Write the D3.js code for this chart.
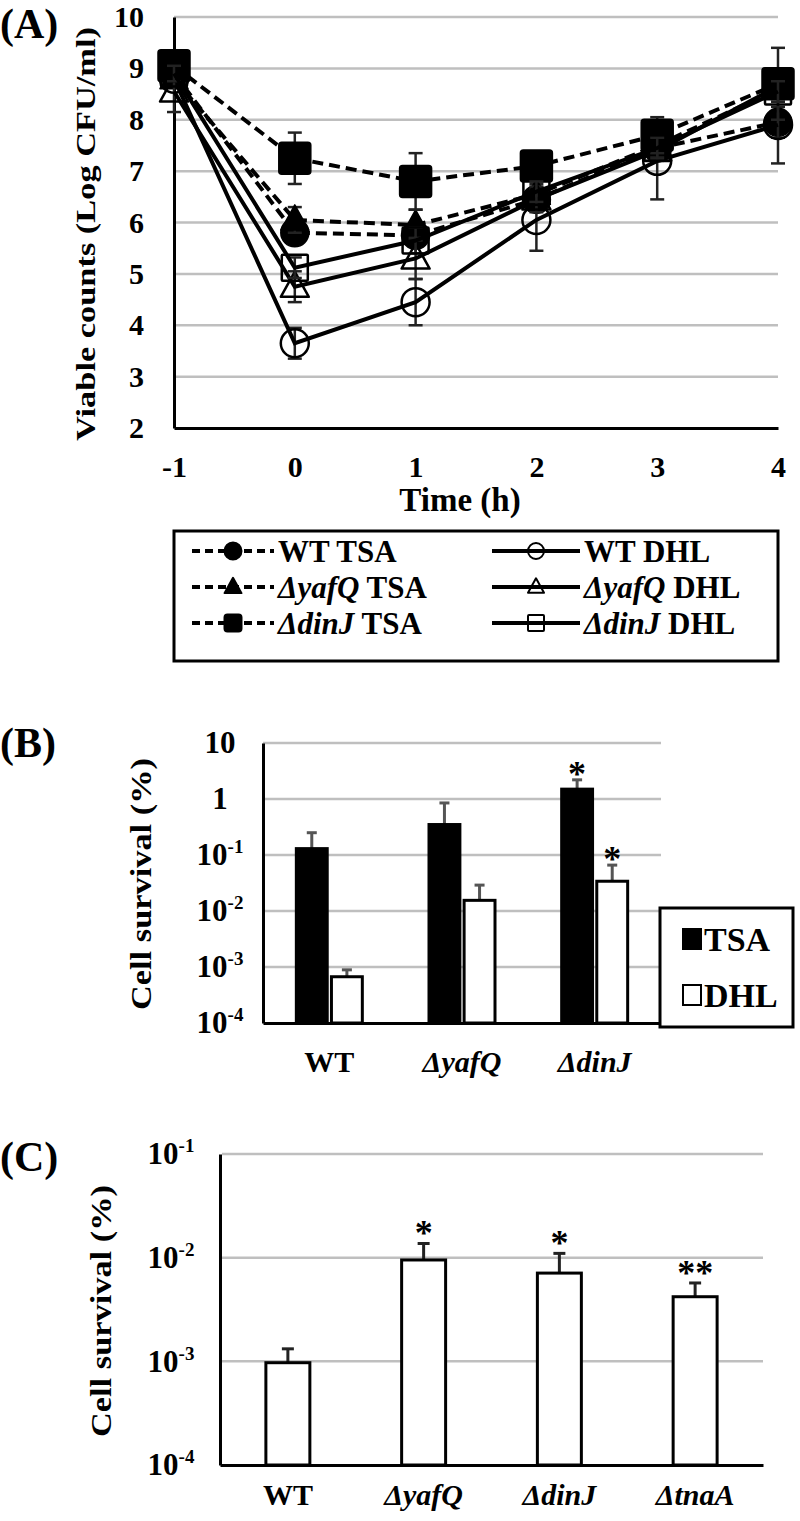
<!DOCTYPE html>
<html><head><meta charset="utf-8">
<script src="https://cdn.jsdelivr.net/npm/d3@7"></script>
<style>
body{margin:0;background:#fff}
svg{display:block}
text{font-family:"Liberation Serif","Times New Roman",serif;font-weight:bold;fill:#000}
</style></head><body>
<svg id="chart" width="800" height="1521"></svg>
<script>
// ---------- Panel A data (Log CFU/ml) ----------
const timesA = [-1, 0, 1, 2, 3, 4];
const xTicksA = [-1, 0, 1, 2, 3, 4];
const yTicksA = [2, 3, 4, 5, 6, 7, 8, 9, 10];
const wtTSA    = [8.90, 5.80, 5.75, 6.45, 7.45, 7.95];
const wtDHL    = [8.80, 3.65, 4.45, 6.05, 7.20, 7.90];
const yafQTSA  = [8.80, 6.05, 5.95, 6.55, 7.50, 8.60];
const yafQDHL  = [8.55, 4.75, 5.30, 6.45, 7.40, 8.65];
const dinJTSA  = [9.05, 7.25, 6.80, 7.10, 7.70, 8.70];
const dinJDHL  = [8.90, 5.12, 5.65, 6.60, 7.45, 8.55];
const wtTSAErr   = [0.15, 0.20, 0.15, 0.20, 0.20, 0.30];
const wtDHLErr   = [0.10, 0.30, 0.45, 0.60, 0.75, 0.75];
const yafQTSAErr = [0.15, 0.25, 0.30, 0.20, 0.20, 0.20];
const yafQDHLErr = [0.40, 0.30, 0.40, 0.25, 0.20, 0.20];
const dinJTSAErr = [0.20, 0.50, 0.55, 0.25, 0.35, 0.70];
const dinJDHLErr = [0.15, 0.20, 0.25, 0.20, 0.20, 0.20];

// ---------- Panel B data (Cell survival %) ----------
const strainsB = ["WT", "ΔyafQ", "ΔdinJ"];
const tsaB     = [0.13, 0.35, 1.5];
const tsaBErr  = [0.12, 0.50, 0.70];
const dhlB     = [0.00067, 0.0155, 0.034];
const dhlBErr  = [0.00022, 0.0135, 0.032];
const sigTsaB  = ["", "", "*"];
const sigDhlB  = ["", "", "*"];
const yTicksB  = [1e-4, 1e-3, 1e-2, 1e-1, 1, 10];

// ---------- Panel C data (Cell survival %) ----------
const strainsC = ["WT", "ΔyafQ", "ΔdinJ", "ΔtnaA"];
const dhlC     = [0.00097, 0.0095, 0.0071, 0.0042];
const dhlCErr  = [0.00035, 0.0042, 0.0039, 0.0015];
const sigC     = ["", "*", "*", "**"];
const yTicksC  = [1e-4, 1e-3, 1e-2, 1e-1];

const svg = d3.select("#chart");
const GRID = "#bfbfbf";

function strainLabel(sel, name, extra) {
  if (name.startsWith("Δ")) sel.append("tspan").attr("font-style", "italic").text(name);
  else sel.append("tspan").text(name);
  if (extra) sel.append("tspan").text(extra);
}
function logLabel(sel, v) {
  sel.text(null);
  if (v >= 1) { sel.append("tspan").text(String(v)); return; }
  const e = Math.round(Math.log10(v));
  sel.append("tspan").text("10");
  sel.append("tspan").attr("font-size", 19).attr("dy", -12).text(String(e));
}

// ================= PANEL A =================
{
  const x = d3.scaleLinear().domain([-1, 4]).range([174, 778]);
  const y = d3.scaleLinear().domain([2, 10]).range([428, 17]);
  const g = svg.append("g");
  g.append("text").attr("x", 0).attr("y", 38).attr("font-size", 42).text("(A)");

  g.append("g").selectAll("line").data(yTicksA.filter(d => d > 2)).join("line")
    .attr("x1", x(-1)).attr("x2", x(4)).attr("y1", d => y(d)).attr("y2", d => y(d))
    .attr("stroke", GRID).attr("stroke-width", 2.5);

  const ya = g.append("g").attr("transform", `translate(${x(-1)},0)`)
    .call(d3.axisLeft(y).tickValues(yTicksA).tickSize(0).tickPadding(30).tickFormat(d => String(d)));
  ya.select(".domain").attr("stroke", "#000").attr("stroke-width", 3);
  ya.selectAll("text").attr("font-size", 30).attr("font-family", null);

  const xa = g.append("g").attr("transform", `translate(0,${y(2)})`)
    .call(d3.axisBottom(x).tickValues(xTicksA).tickSize(0).tickPadding(28).tickFormat(d => String(d)));
  xa.select(".domain").attr("stroke", "#000").attr("stroke-width", 3);
  xa.selectAll("text").attr("font-size", 30).attr("font-family", null);

  g.append("text").attr("x", 460).attr("y", 511).attr("text-anchor", "middle")
    .attr("font-size", 33).text("Time (h)");
  g.append("text").attr("transform", "translate(89,234) rotate(-90)")
    .attr("text-anchor", "middle").attr("dominant-baseline", "middle")
    .attr("font-size", 27).attr("textLength", 414).attr("lengthAdjust", "spacingAndGlyphs")
    .text("Viable counts (Log CFU/ml)");

  const series = [
    {vals: wtTSA, err: wtTSAErr, dash: true, shape: "circle", fill: true},
    {vals: wtDHL, err: wtDHLErr, dash: false, shape: "circle", fill: false},
    {vals: yafQTSA, err: yafQTSAErr, dash: true, shape: "triangle", fill: true},
    {vals: yafQDHL, err: yafQDHLErr, dash: false, shape: "triangle", fill: false},
    {vals: dinJTSA, err: dinJTSAErr, dash: true, shape: "square", fill: true},
    {vals: dinJDHL, err: dinJDHLErr, dash: false, shape: "square", fill: false},
  ];
  const line = d3.line().x(d => x(d[0])).y(d => y(d[1]));
  function marker(sel, shape, fill, size, sw) {
    let m;
    if (shape === "circle") m = sel.append("circle").attr("r", size / 2);
    else if (shape === "square") m = sel.append("rect").attr("x", -size / 2).attr("y", -size / 2)
      .attr("width", size).attr("height", size).attr("rx", fill ? 3 : 1);
    else {
      const h = size * 0.9, w = size;
      m = sel.append("path").attr("d", `M0,${-h * 0.6}L${w / 2},${h * 0.4}L${-w / 2},${h * 0.4}Z`);
    }
    m.attr("fill", fill ? "#000" : "none").attr("stroke", "#000").attr("stroke-width", sw)
      .attr("stroke-linejoin", "round");
    return m;
  }
  const plot = g.append("g");
  series.forEach(s => {
    const pts = timesA.map((t, i) => [t, s.vals[i], s.err[i]]);
    const sg = plot.append("g");
    const eb = sg.append("g").attr("stroke", "#222").attr("stroke-width", 2.5);
    pts.forEach(p => {
      eb.append("line").attr("x1", x(p[0])).attr("x2", x(p[0])).attr("y1", y(p[1] - p[2])).attr("y2", y(p[1] + p[2]));
      [p[1] - p[2], p[1] + p[2]].forEach(v => eb.append("line")
        .attr("x1", x(p[0]) - 7).attr("x2", x(p[0]) + 7).attr("y1", y(v)).attr("y2", y(v)));
    });
    sg.append("path").datum(pts).attr("d", line).attr("fill", "none").attr("stroke", "#000")
      .attr("stroke-width", 4).attr("stroke-dasharray", s.dash ? "11,6" : null);
    pts.forEach(p => {
      const mg = sg.append("g").attr("transform", `translate(${x(p[0])},${y(p[1])})`);
      marker(mg, s.shape, s.fill, s.shape === "square" ? (s.fill ? 32 : 26) : 28, s.fill ? 1.5 : 2.5);
    });
  });

  // legend
  const lg = g.append("g");
  lg.append("rect").attr("x", 174).attr("y", 531).attr("width", 604).attr("height", 130)
    .attr("fill", "#fff").attr("stroke", "#000").attr("stroke-width", 3);
  const rows = [551, 587, 623];
  const legItems = [
    {name: "WT", cond: " TSA", s: series[0], col: 0, row: 0},
    {name: "WT", cond: " DHL", s: series[1], col: 1, row: 0},
    {name: "ΔyafQ", cond: " TSA", s: series[2], col: 0, row: 1},
    {name: "ΔyafQ", cond: " DHL", s: series[3], col: 1, row: 1},
    {name: "ΔdinJ", cond: " TSA", s: series[4], col: 0, row: 2},
    {name: "ΔdinJ", cond: " DHL", s: series[5], col: 1, row: 2},
  ];
  legItems.forEach(it => {
    const x0 = it.col === 0 ? 192 : 492, x1 = it.col === 0 ? 274 : 580;
    const yy = rows[it.row];
    lg.append("line").attr("x1", x0).attr("x2", x1).attr("y1", yy).attr("y2", yy)
      .attr("stroke", "#000").attr("stroke-width", 4).attr("stroke-dasharray", it.s.dash ? "8,5" : null);
    const mg = lg.append("g").attr("transform", `translate(${(x0 + x1) / 2},${yy})`);
    marker(mg, it.s.shape, it.s.fill, it.s.fill ? 17 : 16, 2);
    const t = lg.append("text").attr("x", x1 + 4).attr("y", yy + 11).attr("font-size", 31);
    strainLabel(t, it.name, it.cond);
  });
}

// ================= PANEL B =================
{
  const x = d3.scaleBand().domain(strainsB).range([263, 661]);
  const y = d3.scaleLog().domain([1e-4, 10]).range([1023, 743]);
  const g = svg.append("g");
  g.append("text").attr("x", 0).attr("y", 757).attr("font-size", 42).text("(B)");
  g.append("g").selectAll("line").data(yTicksB.filter(d => d > 1e-4)).join("line")
    .attr("x1", 263).attr("x2", 661).attr("y1", d => y(d)).attr("y2", d => y(d))
    .attr("stroke", GRID).attr("stroke-width", 2.5);
  const ya = g.append("g").attr("transform", "translate(263,0)")
    .call(d3.axisLeft(y).tickValues(yTicksB).tickSize(0).tickPadding(43));
  ya.select(".domain").attr("stroke", "#000").attr("stroke-width", 3);
  ya.selectAll("text").attr("font-size", 31).attr("font-family", null).attr("text-anchor", "middle")
    .each(function (d) { logLabel(d3.select(this), d); });

  const sub = d3.scaleBand().domain(["TSA", "DHL"]).range([-33, 33]).paddingInner(0.12);
  const bars = [
    {key: "TSA", vals: tsaB, err: tsaBErr, fill: "#000", sig: sigTsaB},
    {key: "DHL", vals: dhlB, err: dhlBErr, fill: "#fff", sig: sigDhlB},
  ];
  bars.forEach(b => {
    const bg = g.append("g");
    const cx = (d, i) => x(strainsB[i]) + x.bandwidth() / 2 + sub(b.key);
    bg.selectAll("line.e").data(b.vals).join("line").attr("class", "e")
      .attr("x1", (d, i) => cx(d, i) + sub.bandwidth() / 2).attr("x2", (d, i) => cx(d, i) + sub.bandwidth() / 2)
      .attr("y1", d => y(d)).attr("y2", (d, i) => y(d + b.err[i]))
      .attr("stroke", "#555").attr("stroke-width", 3);
    bg.selectAll("line.c").data(b.vals).join("line").attr("class", "c")
      .attr("x1", (d, i) => cx(d, i) + sub.bandwidth() / 2 - 5).attr("x2", (d, i) => cx(d, i) + sub.bandwidth() / 2 + 5)
      .attr("y1", (d, i) => y(d + b.err[i])).attr("y2", (d, i) => y(d + b.err[i]))
      .attr("stroke", "#555").attr("stroke-width", 3);
    bg.selectAll("rect").data(b.vals).join("rect")
      .attr("x", (d, i) => cx(d, i)).attr("width", sub.bandwidth())
      .attr("y", d => y(d)).attr("height", d => y(1e-4) - y(d))
      .attr("fill", b.fill).attr("stroke", "#000").attr("stroke-width", 3);
    bg.selectAll("text").data(b.vals).join("text")
      .attr("x", (d, i) => cx(d, i) + sub.bandwidth() / 2).attr("y", (d, i) => y(d + b.err[i]) + 6)
      .attr("text-anchor", "middle").attr("font-size", 36).text((d, i) => b.sig[i]);
  });
  const xa = g.append("g").attr("transform", `translate(0,${y(1e-4)})`)
    .call(d3.axisBottom(x).tickSize(0).tickPadding(28));
  xa.select(".domain").attr("stroke", "#000").attr("stroke-width", 3);
  xa.selectAll("text").attr("font-size", 30).attr("font-family", null)
    .each(function (d) { const s = d3.select(this); s.text(null); strainLabel(s, d); });

  g.append("text").attr("transform", "translate(144,884) rotate(-90)")
    .attr("text-anchor", "middle").attr("dominant-baseline", "middle")
    .attr("font-size", 29).attr("textLength", 252).attr("lengthAdjust", "spacingAndGlyphs")
    .text("Cell survival (%)");

  const lg = g.append("g");
  lg.append("rect").attr("x", 660).attr("y", 908).attr("width", 133).attr("height", 119)
    .attr("fill", "#fff").attr("stroke", "#000").attr("stroke-width", 3);
  [{k: "TSA", f: "#000", yy: 939}, {k: "DHL", f: "#fff", yy: 995}].forEach(it => {
    lg.append("rect").attr("x", 683).attr("y", it.yy - 10).attr("width", 18).attr("height", 20)
      .attr("fill", it.f).attr("stroke", "#000").attr("stroke-width", 2);
    lg.append("text").attr("x", 704).attr("y", it.yy + 12).attr("font-size", 34).text(it.k);
  });
}

// ================= PANEL C =================
{
  const x = d3.scaleBand().domain(strainsC).range([220, 763]).paddingInner(0.676).paddingOuter(0.338);
  const y = d3.scaleLog().domain([1e-4, 1e-1]).range([1465, 1154]);
  const g = svg.append("g");
  g.append("text").attr("x", 0).attr("y", 1171).attr("font-size", 42).text("(C)");
  g.append("g").selectAll("line").data(yTicksC.filter(d => d > 1e-4)).join("line")
    .attr("x1", 222).attr("x2", 763).attr("y1", d => y(d)).attr("y2", d => y(d))
    .attr("stroke", GRID).attr("stroke-width", 2.5);
  const ya = g.append("g").attr("transform", "translate(220,0)")
    .call(d3.axisLeft(y).tickValues(yTicksC).tickSize(0).tickPadding(49));
  ya.select(".domain").attr("stroke", "#000").attr("stroke-width", 3);
  ya.selectAll("text").attr("font-size", 31).attr("font-family", null).attr("text-anchor", "middle")
    .each(function (d) { logLabel(d3.select(this), d); });

  const cx = d => x(d) + x.bandwidth() / 2;
  g.selectAll("line.e").data(dhlC).join("line").attr("class", "e")
    .attr("x1", (d, i) => cx(strainsC[i])).attr("x2", (d, i) => cx(strainsC[i]))
    .attr("y1", d => y(d)).attr("y2", (d, i) => y(d + dhlCErr[i]))
    .attr("stroke", "#222").attr("stroke-width", 3);
  g.selectAll("line.c").data(dhlC).join("line").attr("class", "c")
    .attr("x1", (d, i) => cx(strainsC[i]) - 6).attr("x2", (d, i) => cx(strainsC[i]) + 6)
    .attr("y1", (d, i) => y(d + dhlCErr[i])).attr("y2", (d, i) => y(d + dhlCErr[i]))
    .attr("stroke", "#222").attr("stroke-width", 3);
  g.selectAll("rect.bar").data(dhlC).join("rect").attr("class", "bar")
    .attr("x", (d, i) => x(strainsC[i])).attr("width", x.bandwidth())
    .attr("y", d => y(d)).attr("height", d => y(1e-4) - y(d))
    .attr("fill", "#fff").attr("stroke", "#000").attr("stroke-width", 3);
  g.selectAll("text.sig").data(dhlC).join("text").attr("class", "sig")
    .attr("x", (d, i) => cx(strainsC[i])).attr("y", (d, i) => y(d + dhlCErr[i]) + 2)
    .attr("text-anchor", "middle").attr("font-size", 36).text((d, i) => sigC[i]);
  const xa = g.append("g").attr("transform", `translate(0,${y(1e-4)})`)
    .call(d3.axisBottom(x).tickSize(0).tickPadding(19));
  xa.select(".domain").attr("stroke", "#000").attr("stroke-width", 3);
  xa.selectAll("text").attr("font-size", 30).attr("font-family", null)
    .each(function (d) { const s = d3.select(this); s.text(null); strainLabel(s, d); });

  g.append("text").attr("transform", "translate(104,1311) rotate(-90)")
    .attr("text-anchor", "middle").attr("dominant-baseline", "middle")
    .attr("font-size", 29).attr("textLength", 252).attr("lengthAdjust", "spacingAndGlyphs")
    .text("Cell survival (%)");
}
</script>
</body></html>
